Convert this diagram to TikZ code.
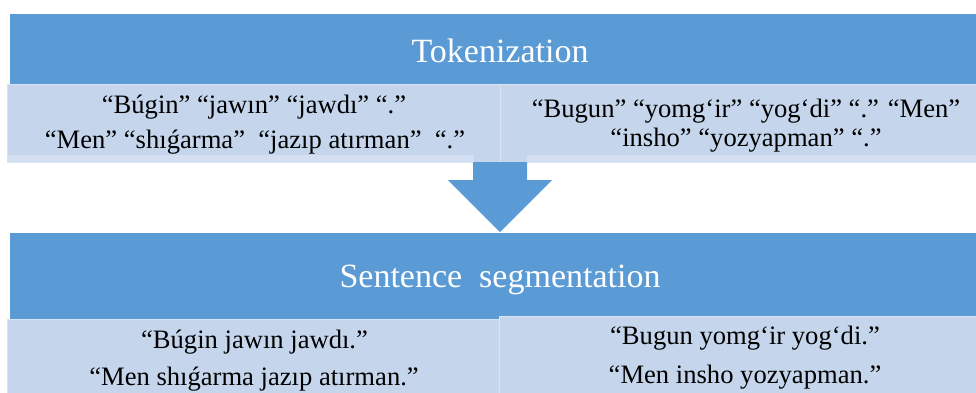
\documentclass[tikz,border=0pt]{standalone}
\usepackage{fontspec}
\setmainfont{Liberation Serif}
\definecolor{barblue}{HTML}{5B9BD5}
\definecolor{lightbox}{HTML}{C5D6EC}
\definecolor{lightstrip}{HTML}{D4E0F1}
\definecolor{boxedge}{HTML}{D9E4F3}
\begin{document}
\begin{tikzpicture}[x=1pt,y=-1pt,
  bar/.style={fill=barblue,draw=none,inner sep=0pt,outer sep=0pt,anchor=north west},
  lbox/.style={fill=lightbox,draw=boxedge,line width=1pt,inner sep=0pt,outer sep=0pt,anchor=north west},
  strip/.style={fill=lightstrip,draw=none,inner sep=0pt,outer sep=0pt,anchor=north west},
  titletext/.style={text=white,font=\fontsize{34}{40}\selectfont,anchor=base,inner sep=0pt},
  bodytext/.style={text=black,font=\fontsize{26.6}{30}\selectfont,anchor=base,inner sep=0pt}]
\useasboundingbox[fill=white] (0,0) rectangle (976,392);

% top stage
\node[bar,minimum width=966pt,minimum height=70pt] (bar1) at (10,14) {};
\node[lbox,minimum width=493pt,minimum height=78pt] (tl) at (7,84) {};
\node[lbox,minimum width=476pt,minimum height=78pt] (tr) at (500,84) {};
\node[strip,minimum width=466pt,minimum height=7pt] (s1) at (7.5,155) {};
\node[strip,minimum width=449pt,minimum height=7pt] (s2) at (527,155) {};
\node[titletext] (t1) at (500,62) {Tokenization};
\node[bodytext] (tl1) at (254,113) {“Búgin” “jawın” “jawdı” “.”};
\node[bodytext] (tl2) at (255,148) {“Men” “shıǵarma”\ \ “jazıp atırman”\ \ “.”};
\node[bodytext] (tr1) at (746,117) {“Bugun” “yomg‘ir” “yog‘di” “.” “Men”};
\node[bodytext] (tr2) at (746,146.5) {“insho” “yozyapman” “.”};

% bottom stage
\node[bar,minimum width=966pt,minimum height=86pt] (bar2) at (10,233) {};
\node[lbox,minimum width=492pt,minimum height=74pt] (bl) at (7,319) {};
\node[lbox,minimum width=477pt,minimum height=77pt] (br) at (499,316) {};
\node[titletext] (t2) at (500,287) {Sentence\ \ segmentation};
\node[bodytext] (bl1) at (254.5,348) {“Búgin jawın jawdı.”};
\node[bodytext] (bl2) at (254,385) {“Men shıǵarma jazıp atırman.”};
\node[bodytext] (br1) at (745,344) {“Bugun yomg‘ir yog‘di.”};
\node[bodytext] (br2) at (745,383) {“Men insho yozyapman.”};

% block arrow between the stages
\fill[barblue] (473,162) -- (527,162) -- (527,180) -- (552,180) -- (500,232) -- (448,180) -- (473,180) -- cycle;
\end{tikzpicture}
\end{document}
